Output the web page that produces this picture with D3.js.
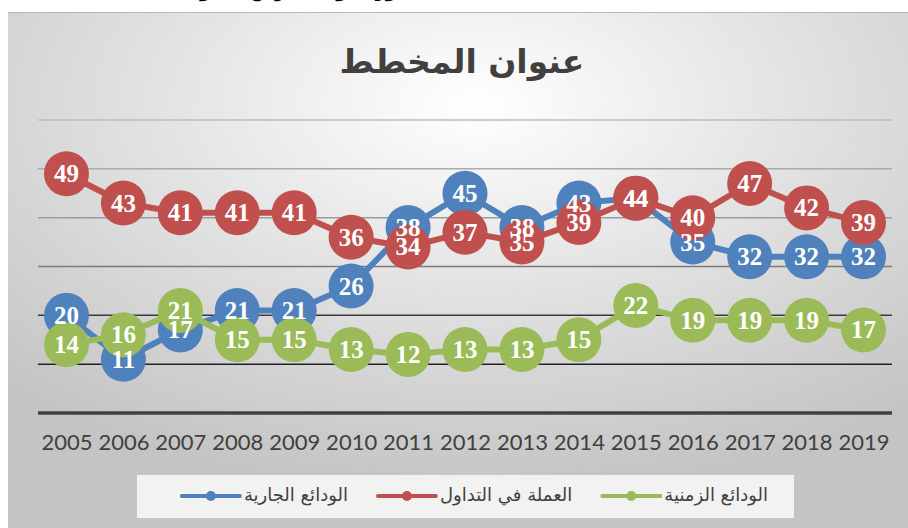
<!DOCTYPE html>
<html>
<head>
<meta charset="utf-8">
<script src="https://cdn.jsdelivr.net/npm/d3@7"></script>
<style>
  html, body { margin: 0; padding: 0; background: #ffffff; }
  svg { display: block; }
</style>
</head>
<body>
<div id="chart"></div>
<script>
// chart data
var years = ["2005", "2006", "2007", "2008", "2009", "2010", "2011", "2012", "2013", "2014", "2015", "2016", "2017", "2018", "2019"];
var currentDeposits = [20, 11, 17, 21, 21, 26, 38, 45, 38, 43, 44, 35, 32, 32, 32];
var currencyInCirculation = [49, 43, 41, 41, 41, 36, 34, 37, 35, 39, 44, 40, 47, 42, 39];
var timeDeposits = [14, 16, 21, 15, 15, 13, 12, 13, 13, 15, 22, 19, 19, 19, 17];
var yTicks = [10, 20, 30, 40, 50, 60];

var seriesNames = ["الودائع الجارية", "العملة في التداول", "الودائع الزمنية"];
var seriesColors = ["#4F81BD", "#C0504D", "#9BBB59"];
var seriesValues = [currentDeposits, currencyInCirculation, timeDeposits];

var series = seriesNames.map(function (name, i) {
    return { name: name, color: seriesColors[i], values: seriesValues[i] };
});

const W = 908, H = 528;

var svg = d3.select("#chart")
    .append("svg")
    .attr("width", W)
    .attr("height", H);

var defs = svg.append("defs");

// gray background gradient, light around the title
var grad = defs.append("radialGradient")
    .attr("id", "bg")
    .attr("cx", "52%").attr("cy", "18%")
    .attr("r", "75%");
grad.append("stop").attr("offset", "0%").attr("stop-color", "#ffffff");
grad.append("stop").attr("offset", "45%").attr("stop-color", "#e4e4e4");
grad.append("stop").attr("offset", "100%").attr("stop-color", "#c4c4c4");

// cut-off heading above the chart (only its lower part shows)
svg.append("text")
    .attr("x", 306)
    .attr("y", -3)
    .attr("text-anchor", "middle")
    .style("font-family", "'DejaVu Sans', sans-serif")
    .style("font-weight", "bold")
    .style("font-size", "18px")
    .style("fill", "#000")
    .text("تطور مكونات عرض النقود");

// chart area
svg.append("rect")
    .attr("x", 8).attr("y", 12)
    .attr("width", W - 8).attr("height", H - 12)
    .style("fill", "url(#bg)");
svg.append("line")
    .attr("x1", 8).attr("x2", W)
    .attr("y1", 12.5).attr("y2", 12.5)
    .style("stroke", "#b8b8b8").style("stroke-width", 1);

// title
svg.append("text")
    .attr("x", 462)
    .attr("y", 73)
    .attr("text-anchor", "middle")
    .style("font-family", "'DejaVu Sans', sans-serif")
    .style("font-weight", "bold")
    .style("font-size", "33px")
    .style("fill", "#404040")
    .text("عنوان المخطط");

// scales
var x = d3.scalePoint()
    .domain(years)
    .range([38, 892])
    .padding(0.5);

var y = d3.scaleLinear()
    .domain([0, 60])
    .range([413, 120]);

// gridlines get darker toward the bottom
var gridColor = d3.scaleLinear()
    .domain([10, 20, 30, 40, 50, 60])
    .range(["#222222", "#3a3a3a", "#7a7a7a", "#9c9c9c", "#aaaaaa", "#bdbdbd"]);

svg.append("g")
    .selectAll("line")
    .data(yTicks)
    .join("line")
    .attr("x1", 38).attr("x2", 892)
    .attr("y1", d => y(d)).attr("y2", d => y(d))
    .style("stroke", d => gridColor(d))
    .style("stroke-width", 1.5);

// x axis
var xAxis = svg.append("g")
    .attr("transform", `translate(0,${y(0)})`)
    .call(d3.axisBottom(x).tickSize(0).tickPadding(21));
xAxis.select(".domain")
    .attr("d", "M38,0H892")
    .style("stroke", "#404040")
    .style("stroke-width", 3.5);
xAxis.selectAll("text")
    .style("font-family", "Lato, 'Open Sans', sans-serif")
    .style("font-size", "22px")
    .style("fill", "#404040");

// lines and markers, one series after another
var line = d3.line()
    .x((d, i) => x(years[i]))
    .y(d => y(d));

series.forEach(function (s) {
    var g = svg.append("g");
    g.append("path")
        .datum(s.values)
        .attr("d", line)
        .style("fill", "none")
        .style("stroke", s.color)
        .style("stroke-width", 6)
        .style("stroke-linejoin", "round");
    g.selectAll("circle")
        .data(s.values)
        .join("circle")
        .attr("cx", (d, i) => x(years[i]))
        .attr("cy", d => y(d))
        .attr("r", 22.5)
        .style("fill", s.color);
});

// data labels on top of everything
series.forEach(function (s) {
    svg.append("g")
        .selectAll("text")
        .data(s.values)
        .join("text")
        .attr("x", (d, i) => x(years[i]))
        .attr("y", d => y(d))
        .attr("dy", "0.34em")
        .attr("text-anchor", "middle")
        .style("font-family", "'Liberation Serif', serif")
        .style("font-weight", "bold")
        .style("font-size", "25px")
        .style("fill", "#ffffff")
        .text(d => d);
});

// legend
var legend = svg.append("g");
legend.append("rect")
    .attr("x", 137).attr("y", 475)
    .attr("width", 657).attr("height", 43)
    .style("fill", "#f2f2f2");

var cursor = 768;
var legendY = 496;
series.slice().reverse().forEach(function (s) {
    var t = legend.append("text")
        .attr("x", cursor)
        .attr("y", legendY)
        .attr("dy", "0.3em")
        .attr("text-anchor", "end")
        .style("font-family", "'DejaVu Sans', sans-serif")
        .style("font-size", "18px")
        .style("fill", "#404040")
        .text(s.name);
    var w = t.node().getComputedTextLength();
    var symRight = cursor - w - 4;
    var symLeft = symRight - 58;
    legend.append("line")
        .attr("x1", symLeft).attr("x2", symRight)
        .attr("y1", legendY).attr("y2", legendY)
        .style("stroke", s.color)
        .style("stroke-width", 4)
        .style("stroke-linecap", "round");
    legend.append("circle")
        .attr("cx", (symLeft + symRight) / 2)
        .attr("cy", legendY)
        .attr("r", 5)
        .style("fill", s.color);
    cursor = symLeft - 30;
});
</script>
</body>
</html>
